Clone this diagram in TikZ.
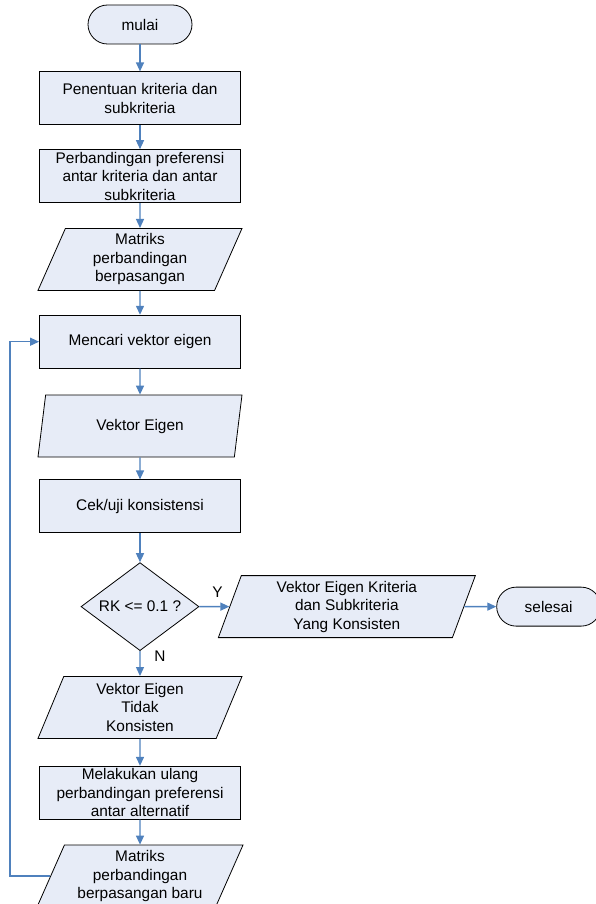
\documentclass[tikz,border=0pt]{standalone}
\usepackage{fontspec}
\setmainfont{Liberation Sans}
\usetikzlibrary{
  shapes.geometric,
  positioning,
  arrows.meta,
  calc
}
\definecolor{boxfill}{RGB}{231,236,247}
\definecolor{flowblue}{RGB}{79,129,189}

\begin{document}
\begin{tikzpicture}[
    x=1pt, y=-1pt,
    font=\fontsize{15.4pt}{18.6pt}\selectfont,
    >={Triangle[length=9pt,width=8pt]},
    terminal/.style={
      rectangle,
      rounded corners=19.5pt,
      draw=black,
      fill=boxfill,
      line width=0.8pt,
      minimum width=104pt,
      minimum height=39pt,
      inner sep=0pt
    },
    process/.style={
      rectangle,
      draw=black,
      fill=boxfill,
      line width=0.8pt,
      minimum width=201pt,
      minimum height=53pt,
      inner sep=0pt,
      align=center
    },
    data/.style={
      trapezium,
      trapezium left angle=62,
      trapezium right angle=118,
      trapezium stretches body=true,
      draw=black,
      fill=boxfill,
      line width=0.8pt,
      minimum width=204pt,
      minimum height=62pt,
      inner sep=0pt,
      align=center
    },
    decision/.style={
      diamond,
      aspect=1.34,
      draw=black,
      fill=boxfill,
      line width=0.8pt,
      minimum width=118pt,
      minimum height=88pt,
      inner sep=0pt
    },
    flow/.style={
      ->,
      line width=1.3pt,
      flowblue
    },
    answer/.style={
      inner sep=0pt
    }
  ]

  \useasboundingbox (0,0) rectangle (595,904);

  % Main column
  \node[terminal] (mulai) at (140,24.5) {mulai};
  \node[process, below=27pt of mulai] (kriteria)
    {Penentuan kriteria dan\\ subkriteria};
  \node[process, below=24pt of kriteria] (banding)
    {Perbandingan preferensi\\ antar kriteria dan antar\\ subkriteria};
  \node[data, below=25pt of banding] (matriks)
    {Matriks\\ perbandingan\\ berpasangan};
  \node[process, below=24pt of matriks] (cari)
    {Mencari vektor eigen};
  \node[data, below=26pt of cari] (vektor)
    {Vektor Eigen};
  \node[process, below=22pt of vektor] (cek)
    {Cek/uji konsistensi};
  \node[decision, below=29pt of cek] (rk)
    {RK <= 0.1 ?};

  % Consistent branch
  \node[data, trapezium left angle=66, trapezium right angle=114,
        minimum width=257pt, right=30pt of rk] (konsisten)
    {Vektor Eigen Kriteria\\ dan Subkriteria\\ Yang Konsisten};
  \node[terminal, right=32pt of konsisten] (selesai) {selesai};

  % Inconsistent branch
  \node[data, below=25pt of rk] (tidak)
    {Vektor Eigen\\ Tidak\\ Konsisten};
  \node[process, below=27pt of tidak] (ulang)
    {Melakukan ulang\\ perbandingan preferensi\\ antar alternatif};
  \node[data, minimum width=206pt, below=25pt of ulang] (baru)
    {Matriks\\ perbandingan\\ berpasangan baru};

  % Connectors
  \draw[flow] (mulai) -- (kriteria);
  \draw[flow] (kriteria) -- (banding);
  \draw[flow] (banding) -- (matriks);
  \draw[flow] (matriks) -- (cari);
  \draw[flow] (cari) -- (vektor);
  \draw[flow] (vektor) -- (cek);
  \draw[flow] (cek) -- (rk);
  \draw[flow] (rk) -- (konsisten);
  \draw[flow] (konsisten) -- (selesai);
  \draw[flow] (rk) -- (tidak);
  \draw[flow] (tidak) -- (ulang);
  \draw[flow] (ulang) -- (baru);

  \node[answer] (ya) at ($(rk.east)+(18,-14)$) {Y};
  \node[answer] (no) at ($(rk.south)+(20,5)$) {N};

  % Loop back
  \coordinate (loopx) at (10,0);
  \draw[flow] (baru.west) -- (baru.west -| loopx) |- (cari.west);

\end{tikzpicture}
\end{document}
